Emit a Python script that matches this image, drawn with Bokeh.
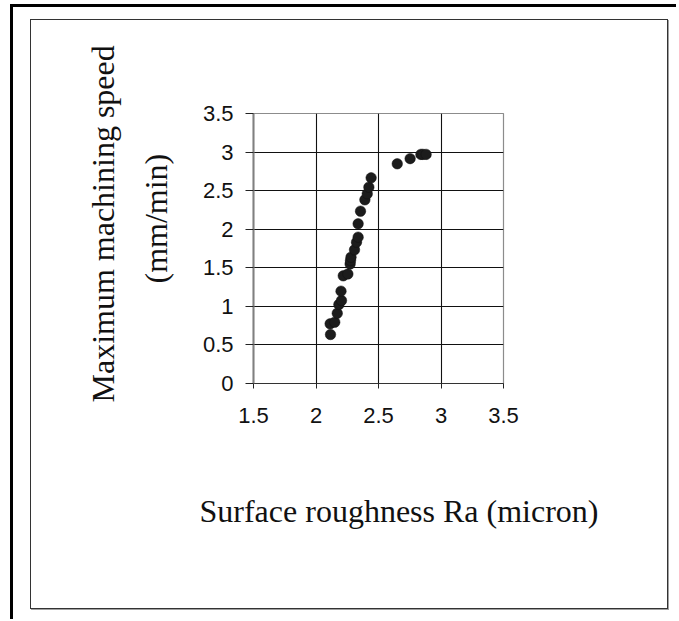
from bokeh.plotting import figure
from bokeh.models import Range1d, FixedTicker, CustomJSTickFormatter, Title, Column
from bokeh.embed import file_html
from bokeh.resources import INLINE

# --- data ---
roughness = [2.116, 2.113, 2.150, 2.170, 2.183, 2.204, 2.200, 2.218, 2.255, 2.273,
             2.276, 2.280, 2.308, 2.324, 2.337, 2.337, 2.356, 2.391, 2.410, 2.423,
             2.441, 2.650, 2.753, 2.839, 2.855, 2.881]
speed = [0.635, 0.774, 0.795, 0.910, 1.024, 1.076, 1.197, 1.396, 1.420, 1.550,
         1.594, 1.637, 1.733, 1.832, 1.897, 2.070, 2.234, 2.381, 2.459, 2.545,
         2.666, 2.848, 2.915, 2.970, 2.970, 2.970]
x_ticks = [1.5, 2, 2.5, 3, 3.5]
y_ticks = [0, 0.5, 1, 1.5, 2, 2.5, 3, 3.5]
x_title = "Surface roughness Ra (micron)"
y_title_1 = "Maximum machining speed"
y_title_2 = "(mm/min)"

W, H = 636, 588
p = figure(width=W, height=H, output_backend="svg", toolbar_location=None,
           x_range=Range1d(x_ticks[0], x_ticks[-1]), y_range=Range1d(y_ticks[0], y_ticks[-1]),
           min_border_left=222, min_border_right=164, min_border_top=93, min_border_bottom=225)
p.background_fill_color = "white"
p.border_fill_color = "white"
p.outline_line_color = "#8c8c8c"
p.outline_line_width = 1.2

fmt = CustomJSTickFormatter(code="return String(tick);")
for ax, ticks in ((p.xaxis[0], x_ticks), (p.yaxis[0], y_ticks)):
    ax.ticker = FixedTicker(ticks=ticks)
    ax.formatter = fmt
    ax.minor_tick_line_color = None
    ax.major_tick_in = 0
    ax.major_label_text_font = "Liberation Sans"
    ax.major_label_text_font_size = "22px"
    ax.major_label_text_color = "#111111"
    ax.major_tick_line_color = "#222222"
p.xaxis.major_tick_out = 5
p.yaxis.major_tick_out = 8
p.xaxis.major_label_standoff = 19
p.yaxis.major_label_standoff = 12
p.yaxis.axis_line_color = "#808080"
p.yaxis.axis_line_width = 2
p.xaxis.axis_line_color = "#333333"
p.xaxis.axis_line_width = 1.2

p.xgrid.ticker = FixedTicker(ticks=x_ticks[1:-1])
p.ygrid.ticker = FixedTicker(ticks=y_ticks[1:-1])
for g in (p.xgrid[0], p.ygrid[0]):
    g.grid_line_color = "#111111"
    g.grid_line_width = 1.1

p.scatter(roughness, speed, size=10.5, fill_color="#1c1c1c", line_color="#111111", line_width=0.5)

serif = "Liberation Serif"
def make_title(text, offset, standoff):
    return Title(text=text, align="left", offset=offset, standoff=standoff,
                 text_font=serif, text_font_size="32px", text_font_style="normal",
                 text_color="#111111")

p.add_layout(make_title(x_title, -54, 130), "below")
p.add_layout(make_title(y_title_2, 100, 52), "left")
p.add_layout(make_title(y_title_1, -19, -23), "left")

inner = Column(children=[p], styles={"border": "1px solid #333333",
                                     "box-shadow": "1px 1px 0px #a0a0a0"})
outer = Column(children=[inner], styles={"border-top": "3px solid black",
                                         "border-left": "3px solid black",
                                         "margin": "4px 0px 0px 10px",
                                         "padding": "12px 8px 10px 17px",
                                         "background": "white"})

open("out.html", "w").write(file_html(outer, INLINE))
